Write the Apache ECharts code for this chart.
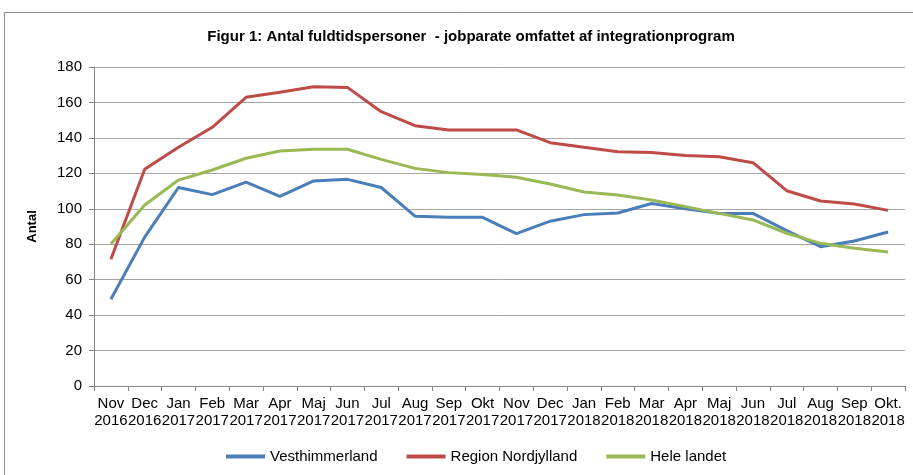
<!DOCTYPE html>
<html><head><meta charset="utf-8">
<script src="https://cdn.jsdelivr.net/npm/echarts@6/dist/echarts.min.js"></script>
<style>html,body{margin:0;padding:0;background:#fff}#c{width:913px;height:475px}</style>
</head><body><div id="c"></div>
<script>
const categories = ["Nov\n2016","Dec\n2016","Jan\n2017","Feb\n2017","Mar\n2017","Apr\n2017","Maj\n2017","Jun\n2017","Jul\n2017","Aug\n2017","Sep\n2017","Okt\n2017","Nov\n2017","Dec\n2017","Jan\n2018","Feb\n2018","Mar\n2018","Apr\n2018","Maj\n2018","Jun\n2018","Jul\n2018","Aug\n2018","Sep\n2018","Okt.\n2018"];
const vesthimmerland = [49,84,112,108,115,107,115.7,116.6,112,95.8,95.2,95.2,86,93,96.7,97.6,103,100,97.4,97.4,87.7,78.6,81.8,86.9];
const regionNordjylland = [71.5,122.3,134.7,146,162.9,165.7,168.9,168.5,154.8,146.9,144.5,144.5,144.5,137.3,134.7,132.2,131.7,130,129.4,126,110.2,104.4,102.7,99.1];
const heleLandet = [80.1,102.1,116.2,121.9,128.5,132.6,133.6,133.6,127.9,122.8,120.4,119.4,117.8,114,109.5,107.8,105,101.2,97.4,93.7,86.2,80.5,77.7,75.6];
const seriesNames = ["Vesthimmerland","Region Nordjylland","Hele landet"];
const colors = ["#4a7ebb","#be4b48","#98b954"];
const FONT = "'Liberation Sans',Arial,sans-serif";

const chart = echarts.init(document.getElementById('c'));
const mk = (name, data, color) => ({
  name, type: 'line', data, symbol: 'none', smooth: false,
  lineStyle: { width: 3, color }, itemStyle: { color }
});
chart.setOption({
  animation: false,
  graphic: [{ type: 'rect', shape: { x: 4.5, y: 12.5, width: 1000, height: 1000 },
    style: { fill: 'none', stroke: '#8c8c8c', lineWidth: 1 }, silent: true }],
  title: { text: 'Figur 1: Antal fuldtidspersoner  - jobparate omfattet af integrationprogram',
    left: 466, textAlign: 'center', top: 24,
    textStyle: { fontFamily: FONT, fontSize: 15, fontWeight: 'bold', color: '#000' } },
  legend: { data: seriesNames, top: 444, left: 221, icon: 'rect', itemWidth: 39, itemHeight: 4, itemGap: 29,
    textStyle: { fontFamily: FONT, fontSize: 15, color: '#000' } },
  grid: { left: 94, right: 8, top: 67, bottom: 89, containLabel: false },
  xAxis: { type: 'category', data: categories, boundaryGap: true,
    axisLine: { lineStyle: { color: '#868686', width: 1 } },
    axisTick: { show: true, length: 5, lineStyle: { color: '#868686' } },
    axisLabel: { interval: 0, fontFamily: FONT, fontSize: 15, color: '#000', lineHeight: 17, margin: 9 } },
  yAxis: { type: 'value', min: 0, max: 180, interval: 20, name: 'Antal', nameLocation: 'middle', nameGap: 55,
    nameRotate: 90,
    nameTextStyle: { fontFamily: FONT, fontSize: 13, fontWeight: 'bold', color: '#000' },
    axisLine: { show: true, lineStyle: { color: '#868686' } },
    axisTick: { show: true, length: 5, lineStyle: { color: '#868686' } },
    splitLine: { lineStyle: { color: '#a6a6a6', width: 1 } },
    axisLabel: { fontFamily: FONT, fontSize: 15, color: '#000', margin: 12 } },
  series: [ mk(seriesNames[0], vesthimmerland, colors[0]), mk(seriesNames[1], regionNordjylland, colors[1]), mk(seriesNames[2], heleLandet, colors[2]) ]
});
</script></body></html>
